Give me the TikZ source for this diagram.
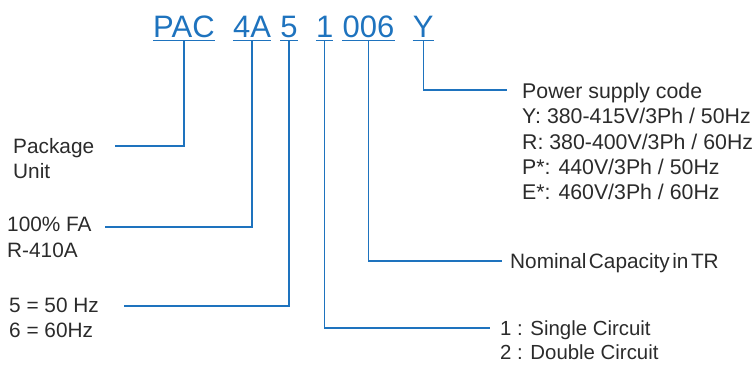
\documentclass[tikz,border=0pt]{standalone}
\usepackage{fontspec}
\setmainfont{Liberation Sans}
\usetikzlibrary{positioning}

\definecolor{codeblue}{HTML}{1E73BE}
\definecolor{textgrey}{HTML}{2B2B2B}
\newcommand{\codefont}{\fontsize{31}{37}\selectfont}
\newcommand{\descfont}{\fontsize{20.8}{24.5}\selectfont}

\begin{document}
\begin{tikzpicture}[
    x = 1pt, y = -1pt,
    code/.style = {font = \codefont, text = codeblue, inner xsep = 0pt,
      inner ysep = 3pt, text depth = 0pt},
    desc/.style = {font = \descfont, text = textgrey, align = left,
      inner sep = 0pt, anchor = north west},
    link/.style = {draw = codeblue, line width = 1.2pt}
  ]
  \useasboundingbox (0,0) rectangle (755,365);

  % model code
  \node[code, anchor = base west] (pac) at (153,37) {PAC};
  \node[code, base right = 18pt of pac] (fa) {4A};
  \node[code, base right = 9pt of fa] (hz) {5};
  \node[code, base right = 18pt of hz] (circ) {1};
  \node[code, base right = 9pt of circ] (cap) {006};
  \node[code, base right = 18pt of cap] (ps) {Y};
  \foreach \nm in {pac, fa, hz, circ, cap, ps}
    \draw[link] (\nm.south west) -- (\nm.south east);

  % free ends of the leaders
  \coordinate (pacend) at (115,146);
  \coordinate (faend) at (105,227);
  \coordinate (hzend) at (124,306);
  \coordinate (circend) at (490,328);
  \coordinate (capend) at (502,261);
  \coordinate (psend) at (507,90);

  % descriptions
  \node[desc] (package) at (13,138.5) {Package\\Unit};
  \node[desc, font = \fontsize{20.8}{25.5}\selectfont] (refrig) at (7,216.8) {100\% FA\\R-410A};
  \node[desc] (freq) at (9,297.8) {5 = 50 Hz\\6 = 60Hz};
  \node[desc, font = \fontsize{20.4}{23.3}\selectfont] (circuit) at (500,320.8)
    {1 : Single Circuit\\2 : Double Circuit};
  \node[desc] (capacity) at (510,253) {{\spaceskip=.12em Nominal Capacity in TR}};
  \node[desc, font = \fontsize{21.3}{25.4}\selectfont] (power) at (522,82.7)
    {Power supply code\\Y: 380-415V/3Ph / 50Hz\\R: 380-400V/3Ph / 60Hz\\P*: 440V/3Ph / 50Hz\\E*: 460V/3Ph / 60Hz};

  \draw[link] (pac.south) |- (pacend);
  \draw[link] (fa.south) |- (faend);
  \draw[link] (hz.south) |- (hzend);
  \draw[link] (circ.south) |- (circend);
  \draw[link] (cap.south) |- (capend);
  \draw[link] (ps.south) |- (psend);
\end{tikzpicture}
\end{document}
